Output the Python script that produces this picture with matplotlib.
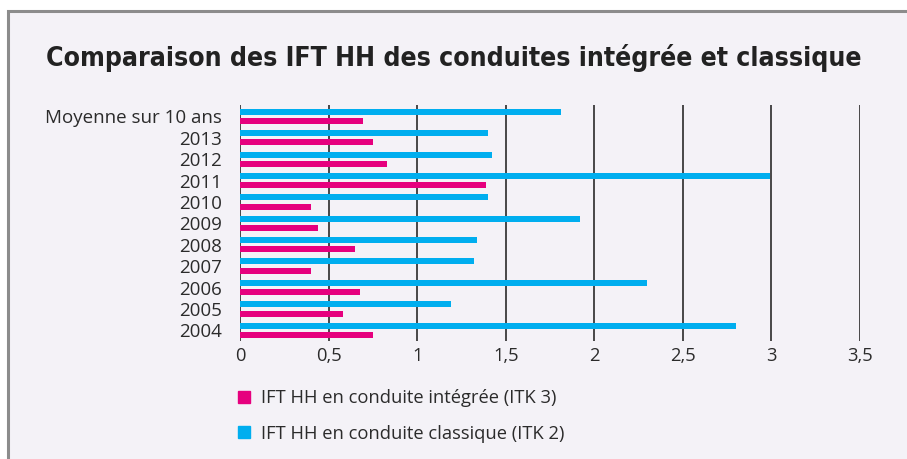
import matplotlib.pyplot as plt
import numpy as np
from matplotlib.lines import Line2D
from matplotlib.patches import Rectangle

CATEGORIES = ["Moyenne sur 10 ans", "2013", "2012", "2011", "2010", "2009",
              "2008", "2007", "2006", "2005", "2004"]
CLASSIQUE = [1.81, 1.40, 1.42, 2.99, 1.40, 1.92, 1.34, 1.32, 2.30, 1.19, 2.80]
INTEGREE = [0.695, 0.75, 0.83, 1.39, 0.40, 0.44, 0.65, 0.40, 0.68, 0.58, 0.75]
X_TICKS = [0, 0.5, 1, 1.5, 2, 2.5, 3, 3.5]
X_LABELS = ["0", "0,5", "1", "1,5", "2", "2,5", "3", "3,5"]
LEGEND = ["IFT HH en conduite intégrée (ITK 3)",
          "IFT HH en conduite classique (ITK 2)"]

CYAN = "#00aeef"
MAGENTA = "#e6007e"
BG = "#f4f2f7"
TEXT = "#2b2b2b"
FONT = ["Open Sans", "DejaVu Sans"]

W, H = 907, 459
fig = plt.figure(figsize=(W / 100, H / 100), dpi=100, facecolor="white")
fig.add_artist(Rectangle((7.5 / W, -0.01), 1.0, 1 - 11 / H + 0.01, transform=fig.transFigure,
                         facecolor=BG, edgecolor="#8c8c8c", linewidth=2.2, zorder=-5))

fig.text(46 / W, 1 - 58 / H, "Comparaison des IFT HH des conduites intégrée et classique",
         family=["Noto Sans Condensed", "DejaVu Sans"], stretch="condensed", weight="bold",
         fontsize=19.1, color="#222222", va="center", ha="left")

ax = fig.add_axes([240 / W, 1 - 341 / H, 620 / W, 236 / H])
ax.set_facecolor("none")

y = np.arange(len(CATEGORIES))
off, h = 0.216, 0.28
ax.barh(y - off, CLASSIQUE, height=h, color=CYAN, zorder=3)
ax.barh(y + off, INTEGREE, height=h, color=MAGENTA, zorder=3)

ax.set_xlim(0, 3.5)
ax.set_ylim(len(CATEGORIES) - 1 + 0.5, -0.53)
for x in X_TICKS:
    ax.axvline(x, color="#3a3a3a", linewidth=1.3, zorder=2)

for s in ax.spines.values():
    s.set_visible(False)
ax.set_xticks(X_TICKS)
ax.set_xticklabels(X_LABELS, family=FONT, fontsize=13.2, color=TEXT)
ax.set_yticks(y)
ax.set_yticklabels(CATEGORIES, family=FONT, fontsize=13.5, color=TEXT)
ax.tick_params(axis="both", length=0)
ax.tick_params(axis="x", pad=4)
ax.tick_params(axis="y", pad=13)

handles = [Line2D([], [], marker="s", linestyle="none", markersize=8.5, color=MAGENTA),
           Line2D([], [], marker="s", linestyle="none", markersize=8.5, color=CYAN)]
fig.legend(handles, LEGEND, loc="upper left", bbox_to_anchor=(227 / W, 1 - 382 / H),
           frameon=False, handlelength=1.0, handletextpad=0.45, labelspacing=0.95,
           prop={"family": FONT, "size": 13.2}, labelcolor=TEXT, borderaxespad=0)

fig.savefig("out.png", dpi=100, facecolor=fig.get_facecolor())
